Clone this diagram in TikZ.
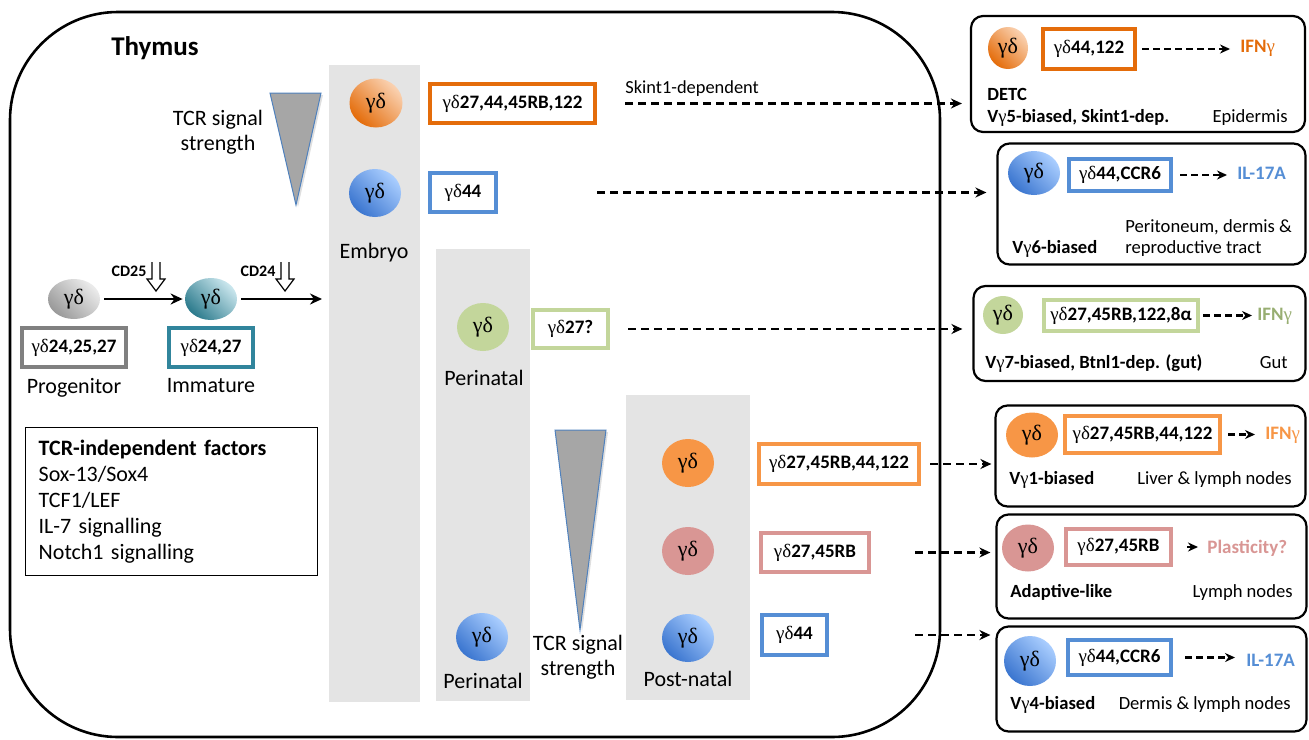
\documentclass[tikz,border=0pt]{standalone}
\usepackage{fontspec}
\setmainfont{Carlito}
\newfontfamily\gdfont{Liberation Serif}
\usepackage{tikz}
\usetikzlibrary{positioning, shapes.geometric, arrows.meta, shadows}
\definecolor{DetcColor}{HTML}{E46C0A}
\definecolor{DetcLight}{HTML}{FAD2B2}
\definecolor{BlueColor}{HTML}{558ED5}
\definecolor{BlueDark}{HTML}{3A75CF}
\definecolor{BlueLight}{HTML}{AACEFF}
\definecolor{GutColor}{HTML}{C3D69B}
\definecolor{GutText}{HTML}{98AE72}
\definecolor{LiverColor}{HTML}{F79646}
\definecolor{AdaptColor}{HTML}{D99694}
\definecolor{ImmColor}{HTML}{2B7A8C}
\definecolor{ImmLight}{HTML}{CBE7EE}
\definecolor{ImmBorder}{HTML}{31859C}
\definecolor{ProgColor}{HTML}{808080}
\definecolor{StageColor}{HTML}{E4E4E4}
\definecolor{WedgeColor}{HTML}{A6A6A6}
\definecolor{WedgeLine}{HTML}{4F81BD}
\newcommand{\gdsym}{{\gdfont\mdseries γδ}}
\newcommand{\gsym}{{\gdfont\mdseries γ}}
\tikzset{
    thymus/.style={draw=black, line width=1.3pt, rounded corners=54pt},
    stage/.style={fill=StageColor},
    stagelabel/.style={font=\fontsize{11}{12.5}\selectfont},
    note/.style={font=\fontsize{9.2}{11}\selectfont, inner sep=0pt},
    wedge/.style={fill=WedgeColor, draw=WedgeLine, line width=0.5pt,
        drop shadow={opacity=0.25, shadow xshift=1pt, shadow yshift=-1pt}},
    cell/.style={ellipse, minimum width=26pt, minimum height=24pt, inner sep=0pt,
        font=\gdfont\fontsize{11}{12}\selectfont},
    detccell/.style={cell, top color=DetcLight, bottom color=DetcColor, shading angle=-45},
    bluecell/.style={cell, top color=BlueLight, bottom color=BlueDark, shading angle=-45},
    immcell/.style={cell, top color=ImmLight, bottom color=ImmColor, shading angle=-45},
    progcell/.style={cell, top color=gray!15, bottom color=gray!80, shading angle=-45},
    gutcell/.style={cell, fill=GutColor},
    livercell/.style={cell, fill=LiverColor},
    adaptcell/.style={cell, fill=AdaptColor},
    marker/.style={rectangle, draw, line width=2pt, fill=white, inner sep=0pt,
        font=\bfseries\fontsize{9.5}{11}\selectfont},
    subset/.style={rectangle, draw=black, line width=1.1pt, rounded corners=6pt,
        fill=white, inner sep=0pt},
    sublabel/.style={font=\bfseries\fontsize{9.3}{11}\selectfont, inner sep=0pt},
    tissue/.style={font=\fontsize{9.3}{11}\selectfont, inner sep=0pt},
    outcome/.style={font=\bfseries\fontsize{9.5}{11}\selectfont, inner sep=1pt},
    factors/.style={draw, line width=0.7pt, align=left, font=\fontsize{11}{13}\selectfont},
    flow/.style={-{Stealth[length=5.5pt, width=5pt]}, line width=1.2pt, dash pattern=on 4pt off 2.5pt},
    inflow/.style={-{Stealth[length=5pt, width=4.5pt]}, line width=1.1pt, dash pattern=on 3.5pt off 2pt},
    develop/.style={-{Stealth[length=6pt, width=5.5pt]}, line width=1pt},
    cdmark/.style={draw, line width=0.6pt, fill=white}
}

\begin{document}
\begin{tikzpicture}[x=0.5pt, y=-0.5pt]
\useasboundingbox (0,0) rectangle (1309,739);

% Thymus
\draw[thymus] (10,12) rectangle (940,737);
\node[font=\bfseries\fontsize{13.5}{15}\selectfont] (n_thymus) at (155,48) {Thymus};

% Stages
\fill[stage] (329,65) rectangle (420,702);
\fill[stage] (436,249) rectangle (530,701);
\fill[stage] (626,395) rectangle (750,700);
\node[stagelabel] (n_embryo) at (374,253) {Embryo};
\node[stagelabel] (n_peri_a) at (484,378) {Perinatal};
\node[stagelabel] (n_peri_b) at (483,681) {Perinatal};
\node[stagelabel] (n_post) at (688,679) {Post-natal};

% TCR signal strength
\draw[wedge] (270,93) -- (321,93) -- (296,205) -- cycle;
\node[stagelabel, align=center] (n_tcr_a) at (218,132) {TCR signal\\strength};
\draw[wedge] (555,430) -- (606,430) -- (580,630) -- cycle;
\node[stagelabel, align=center] (n_tcr_b) at (578,657) {TCR signal\\strength};

% Progenitor / immature
\node[progcell, minimum height=20pt] (c_prog) at (74,299) {γδ};
\node[marker, draw=ProgColor, minimum width=52pt, minimum height=19.5pt] (m_prog) at (74,347.5) {\gdsym24,25,27};
\node[stagelabel, below=1pt of m_prog] (n_prog) {Progenitor};

\node[immcell, minimum height=21pt] (c_imm) at (211,299) {γδ};
\node[marker, draw=ImmBorder, minimum width=42pt, minimum height=19.5pt] (m_imm) at (211,347.5) {\gdsym24,27};
\node[stagelabel, below=1pt of m_imm] (n_imm) {Immature};

\coordinate (t_entry) at (322,299);
\draw[develop, shorten <=2pt, shorten >=1pt] (c_prog) -- (c_imm);
\draw[develop, shorten <=2pt] (c_imm) -- (t_entry);

\node[font=\bfseries\fontsize{8}{9}\selectfont] (n_cd25) at (129,271) {CD25};
\node[font=\bfseries\fontsize{8}{9}\selectfont] (n_cd24) at (258,271) {CD24};
\foreach \hx in {156,285} {
    \draw[cdmark] (\hx-4,262) -- (\hx-4,279) -- (\hx-9,279) -- (\hx,291) -- (\hx+9,279) -- (\hx+4,279) -- (\hx+4,262);
}

\node[factors, anchor=north west, text width=133pt, inner xsep=6.5pt, minimum height=74pt] (n_factors) at (25,427)
    {\textbf{TCR-independent factors}\\Sox-13/Sox4\\TCF1/LEF\\IL-7 signalling\\Notch1 signalling};

% Embryo
\node[detccell, minimum width=26.5pt, minimum height=24.5pt] (c_emb1) at (376,103) {γδ};
\node[marker, draw=DetcColor, minimum width=82.5pt, minimum height=19.5pt] (m_emb1) at (512.5,103.5) {\gdsym27,44,45RB,122};
\node[bluecell] (c_emb2) at (375,193) {γδ};
\node[marker, draw=BlueColor, minimum width=33pt, minimum height=19.5pt] (m_emb2) at (463,192.5) {\gdsym44};

% Perinatal
\node[gutcell] (c_peri1) at (483,327) {γδ};
\node[marker, draw=GutColor, minimum width=37.5pt, minimum height=19pt] (m_peri1) at (570.5,329) {\gdsym27?};
\node[bluecell] (c_peri2) at (482,637) {γδ};

% Post-natal
\node[livercell] (c_post1) at (688,463) {γδ};
\node[marker, draw=LiverColor, minimum width=80pt, minimum height=20pt] (m_post1) at (839,464) {\gdsym27,45RB,44,122};
\node[adaptcell] (c_post2) at (688,551) {γδ};
\node[marker, draw=AdaptColor, minimum width=54pt, minimum height=19.5pt] (m_post2) at (815,552.5) {\gdsym27,45RB};
\node[bluecell] (c_post3) at (688,638) {γδ};
\node[marker, draw=BlueColor, minimum width=32.5pt, minimum height=20pt] (m_post3) at (794.5,635) {\gdsym44};

% Subsets (right)
\node[subset, minimum width=167pt, minimum height=58pt] (r_detc) at (1138,74) {};
\node[detccell, minimum width=20pt, minimum height=21pt] (rc_detc) at (1008,48) {γδ};
\node[marker, draw=DetcColor, minimum width=46pt, minimum height=20pt] (rm_detc) at (1089,49) {\gdsym44,122};
\node[outcome, text=DetcColor, anchor=west] (o_detc) at (1238,48) {IFN\gsym};
\draw[inflow, shorten <=2.5pt, shorten >=4pt] (rm_detc.east) -- (o_detc.west |- rm_detc.east);
\node[sublabel, anchor=base west] (s_detc_a) at (987,100) {DETC};
\node[sublabel, anchor=base west] (s_detc_b) at (987,122) {V\gsym5-biased, Skint1-dep.};
\node[tissue, anchor=base east] (t_detc) at (1288,122) {Epidermis};

\node[subset, minimum width=154pt, minimum height=60.5pt] (r_peri) at (1151.5,204) {};
\node[bluecell, minimum width=26pt, minimum height=22pt] (rc_peri) at (1034,173) {γδ};
\node[marker, draw=BlueColor, minimum width=51pt, minimum height=16pt] (rm_peri) at (1120,175) {\gdsym44,CCR6};
\node[outcome, text=BlueColor, anchor=west] (o_peri) at (1235,173) {IL-17A};
\draw[inflow, shorten <=3.5pt, shorten >=4pt] (rm_peri.east) -- (o_peri.west |- rm_peri.east);
\node[sublabel, anchor=base west] (s_peri) at (1012,253) {V\gsym6-biased};
\node[tissue, anchor=base west] (t_peri_a) at (1125,232) {Peritoneum, dermis \&};
\node[tissue, anchor=base west] (t_peri_b) at (1125,253) {reproductive tract};

\node[subset, minimum width=166pt, minimum height=47.5pt] (r_gut) at (1139.5,333.5) {};
\node[gutcell, minimum width=20pt, minimum height=19pt] (rc_gut) at (1003,315) {γδ};
\node[marker, draw=GutColor, minimum width=77pt, minimum height=15.5pt] (rm_gut) at (1121,315.5) {\gdsym27,45RB,122,8α};
\node[outcome, text=GutText, anchor=west] (o_gut) at (1255,316) {IFN\gsym};
\draw[inflow, shorten <=1.5pt, shorten >=1.5pt] (rm_gut.east) -- (o_gut.west |- rm_gut.east);
\node[sublabel, anchor=base west] (s_gut) at (985,368) {V\gsym7-biased, Btnl1-dep. (gut)};
\node[tissue, anchor=base east] (t_gut) at (1288,368) {Gut};

\node[subset, minimum width=155pt, minimum height=50.5pt] (r_liver) at (1150.5,456) {};
\node[livercell, minimum width=26pt, minimum height=22.5pt] (rc_liver) at (1032,435) {γδ};
\node[marker, draw=LiverColor, minimum width=77.5pt, minimum height=18.5pt] (rm_liver) at (1142.5,434.5) {\gdsym27,45RB,44,122};
\node[outcome, text=LiverColor, anchor=west] (o_liver) at (1263,435) {IFN\gsym};
\draw[inflow, shorten <=3pt, shorten >=4pt] (rm_liver.east) -- (o_liver.west |- rm_liver.east);
\node[sublabel, anchor=base west] (s_liver) at (1009,484) {V\gsym1-biased};
\node[tissue, anchor=base east] (t_liver) at (1292,484) {Liver \& lymph nodes};

\node[subset, minimum width=155pt, minimum height=52pt] (r_adapt) at (1151.5,566.5) {};
\node[adaptcell, minimum width=26pt, minimum height=23.5pt] (rc_adapt) at (1028,548) {γδ};
\node[marker, draw=AdaptColor, minimum width=52.5pt, minimum height=18pt] (rm_adapt) at (1118.5,547) {\gdsym27,45RB};
\node[outcome, text=AdaptColor, anchor=west] (o_adapt) at (1205,548) {Plasticity?};
\draw[inflow, solid, shorten <=7pt, shorten >=3.5pt] (rm_adapt.east) -- (o_adapt.west |- rm_adapt.east);
\node[sublabel, anchor=base west] (s_adapt) at (1010,597) {Adaptive-like};
\node[tissue, anchor=base east] (t_adapt) at (1293,597) {Lymph nodes};

\node[subset, minimum width=155pt, minimum height=52.5pt] (r_derm) at (1151.5,679) {};
\node[bluecell, minimum width=26pt, minimum height=25pt] (rc_derm) at (1030,661) {γδ};
\node[marker, draw=BlueColor, minimum width=51.5pt, minimum height=17.5pt] (rm_derm) at (1119.5,657.5) {\gdsym44,CCR6};
\node[outcome, text=BlueColor, anchor=west] (o_derm) at (1244,660) {IL-17A};
\draw[inflow, shorten <=6pt, shorten >=4.5pt] (rm_derm.east) -- (o_derm.west |- rm_derm.east);
\node[sublabel, anchor=base west] (s_derm) at (1010,709) {V\gsym4-biased};
\node[tissue, anchor=base east] (t_derm) at (1291,709) {Dermis \& lymph nodes};

% Migration (dashed)
\node[note, anchor=base west] (l_skint) at (625,93) {Skint1-dependent};
\draw[flow, shorten <=14pt, shorten >=4pt] (m_emb1.east) -- (m_emb1.east -| r_detc.west);
\draw[flow, shorten <=49.5pt, shorten >=5pt] (m_emb2.east) -- (m_emb2.east -| r_peri.west);
\draw[flow, shorten <=9pt, shorten >=5pt] (m_peri1.east) -- (m_peri1.east -| r_gut.west);
\draw[flow, shorten <=4.5pt, shorten >=1.5pt] (m_post1.east) -- (m_post1.east -| r_liver.west);
\draw[flow, shorten <=22pt, shorten >=2.5pt] (m_post2.east) -- (m_post2.east -| r_adapt.west);
\draw[flow, shorten <=43pt, shorten >=2.5pt] (m_post3.east) -- (m_post3.east -| r_derm.west);

\end{tikzpicture}
\end{document}
